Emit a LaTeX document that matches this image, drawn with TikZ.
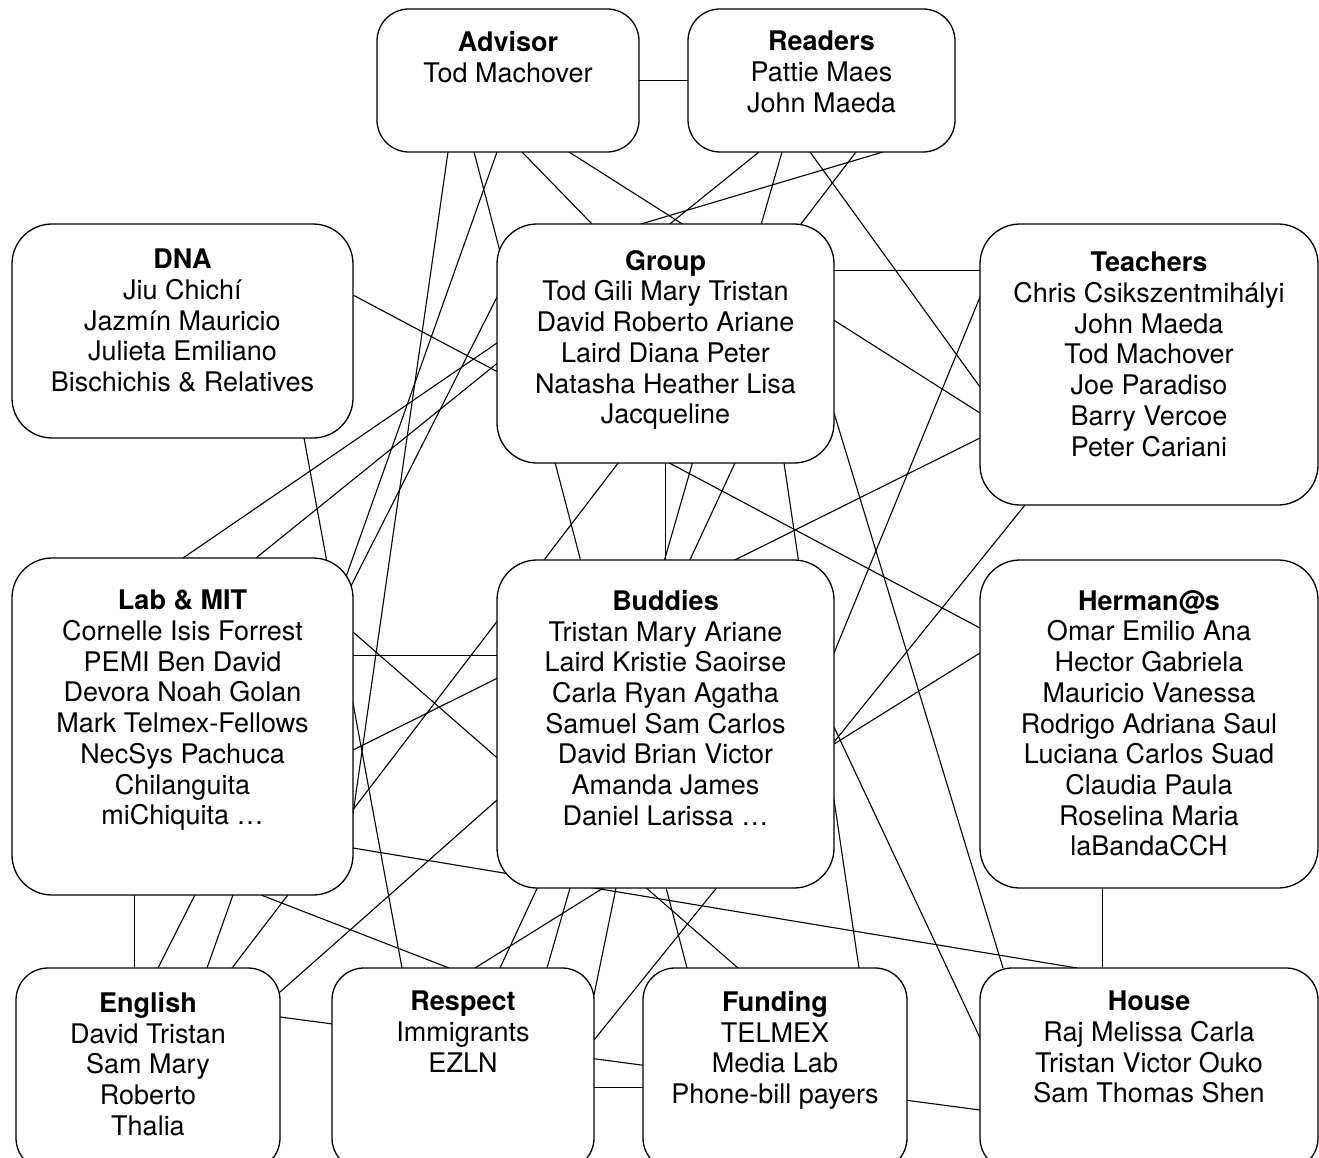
\documentclass[tikz,border=0pt]{standalone}
\usepackage{fontspec}
\setmainfont{TeX Gyre Heros}
\usetikzlibrary{positioning, calc, backgrounds}

\begin{document}
\begin{tikzpicture}[
        x=1pt, y=-1pt,
        % boxes (big ones and small ones)
        box/.style={draw, fill=white, line width=1.3pt, rounded corners=40pt, inner sep=0pt, outer sep=0pt, anchor=north west},
        sbox/.style={box, rounded corners=32pt},
        % the names written in each box
        names/.style={align=center, inner sep=0pt, font=\fontsize{27}{30.7}\selectfont},
        % connectors
        link/.style={line width=1.1pt}
    ]
    \useasboundingbox (0,0) rectangle (1319,1158);
    \clip (0,0) rectangle (1319,1158);

    % --- TOP ROW ---
    \node[sbox, minimum width=262pt, minimum height=143pt] (adv) at (377,9) {};
    \node[sbox, minimum width=267pt, minimum height=143pt, right=49pt of adv.north east, anchor=north west] (rdr) {};

    % --- SECOND ROW ---
    \node[box, minimum width=341pt, minimum height=214pt] (dna) at (12,224) {};
    \node[box, minimum width=337pt, minimum height=239pt, right=144pt of dna.north east, anchor=north west] (grp) {};
    \node[box, minimum width=338pt, minimum height=281pt, right=146pt of grp.north east, anchor=north west] (tch) {};

    % --- THIRD ROW ---
    \node[box, minimum width=341pt, minimum height=337pt, below=120pt of dna.south west, anchor=north west] (lab) {};
    \node[box, minimum width=337pt, minimum height=328pt, below=97pt of grp.south west, anchor=north west] (bud) {};
    \node[box, minimum width=338pt, minimum height=328pt, below=55pt of tch.south west, anchor=north west] (her) {};

    % --- BOTTOM ROW ---
    \node[sbox, minimum width=264pt, minimum height=202pt] (eng) at (16,968) {};
    \node[sbox, minimum width=262pt, minimum height=202pt, right=52pt of eng.north east, anchor=north west] (res) {};
    \node[sbox, minimum width=264pt, minimum height=202pt, right=49pt of res.north east, anchor=north west] (fun) {};
    \node[sbox, minimum width=338pt, minimum height=202pt, right=73pt of fun.north east, anchor=north west] (hou) {};

    % --- NAMES ---
    \node[names, below=22pt of adv.north] (adv-t) {\textbf{Advisor}\\Tod Machover};
    \node[names, below=22pt of rdr.north] (rdr-t) {\textbf{Readers}\\Pattie Maes\\John Maeda};
    \node[names, below=25pt of dna.north] (dna-t) {\textbf{DNA}\\Jiu Chichí\\Jazmín Mauricio\\Julieta Emiliano\\Bischichis \& Relatives};
    \node[names, below=26pt of grp.north] (grp-t) {\textbf{Group}\\Tod Gili Mary Tristan\\David Roberto Ariane\\Laird Diana Peter\\Natasha Heather Lisa\\Jacqueline};
    \node[names, below=28pt of tch.north] (tch-t) {\textbf{Teachers}\\Chris Csikszentmihályi\\John Maeda\\Tod Machover\\Joe Paradiso\\Barry Vercoe\\Peter Cariani};
    \node[names, below=32pt of lab.north] (lab-t) {\textbf{Lab \& MIT}\\Cornelle Isis Forrest\\PEMI Ben David\\Devora Noah Golan\\Mark Telmex-Fellows\\NecSys Pachuca\\Chilanguita\\miChiquita …};
    \node[names, below=30pt of bud.north] (bud-t) {\textbf{Buddies}\\Tristan Mary Ariane\\Laird Kristie Saoirse\\Carla Ryan Agatha\\Samuel Sam Carlos\\David Brian Victor\\Amanda James\\Daniel Larissa …};
    \node[names, below=30pt of her.north] (her-t) {\textbf{Herman@s}\\Omar Emilio Ana\\Hector Gabriela\\Mauricio Vanessa\\Rodrigo Adriana Saul\\Luciana Carlos Suad\\Claudia Paula\\Roselina Maria\\laBandaCCH};
    \node[names, below=24pt of eng.north] (eng-t) {\textbf{English}\\David Tristan\\Sam Mary\\Roberto\\Thalia};
    \node[names, below=23pt of res.north] (res-t) {\textbf{Respect}\\Immigrants\\EZLN};
    \node[names, below=23pt of fun.north] (fun-t) {\textbf{Funding}\\TELMEX\\Media Lab\\Phone-bill payers};
    \node[names, below=23pt of hou.north] (hou-t) {\textbf{House}\\Raj Melissa Carla\\Tristan Victor Ouko\\Sam Thomas Shen};

    % --- CONNECTORS (behind the boxes) ---
    \begin{scope}[on background layer]
        % from Advisor
        \draw[link] (adv.east) -- (rdr.west);
        \draw[link] ($(adv.south west)+(71,0)$) -- ($(lab.north east)+(0,256)$);
        \draw[link] ($(adv.south west)+(97,0)$) -- ($(fun.north west)+(44,0)$);
        \draw[link] ($(adv.south west)+(120,0)$) -- ($(eng.north west)+(191,0)$);
        \draw[link] ($(adv.south west)+(145,0)$) -- ($(grp.north west)+(95,0)$);
        \draw[link] ($(adv.south west)+(192,0)$) -- ($(tch.north west)+(0,189)$);
        % from Readers
        \draw[link] ($(rdr.south west)+(71,0)$) -- ($(lab.north west)+(244,0)$);
        \draw[link] ($(rdr.south west)+(94,0)$) -- ($(res.north west)+(215,0)$);
        \draw[link] ($(rdr.south west)+(122,0)$) -- ($(tch.north west)+(0,163)$);
        \draw[link] ($(rdr.south west)+(168,0)$) -- ($(eng.north west)+(216,0)$);
        \draw[link] ($(rdr.south west)+(195,0)$) -- ($(grp.north west)+(144,0)$);
        % from DNA
        \draw[link] ($(dna.north east)+(0,71)$) -- ($(her.north west)+(0,68)$);
        \draw[link] ($(dna.south west)+(292,0)$) -- ($(res.north west)+(70,0)$);
        % from Group
        \draw[link] ($(grp.north west)+(0,73)$) -- ($(eng.north west)+(142,0)$);
        \draw[link] ($(grp.north west)+(0,119)$) -- ($(lab.north west)+(171,0)$);
        \draw[link] ($(grp.north east)+(0,46.5)$) -- ($(tch.north west)+(0,46.5)$);
        \draw[link] ($(grp.north east)+(0,189)$) -- ($(hou.north west)+(23,0)$);
        \draw[link] ($(grp.south west)+(287,0)$) -- ($(fun.north west)+(216,0)$);
        \draw[link] (grp.south) -- (bud.north);
        \draw[link] ($(grp.south west)+(238,0)$) -- ($(res.north west)+(168,0)$);
        % from Teachers
        \draw[link] ($(tch.north west)+(0,214)$) -- ($(lab.north east)+(0,192)$);
        \draw[link] ($(tch.north west)+(0,73)$) -- ($(bud.north east)+(0,93)$);
        \draw[link] ($(tch.south west)+(45,0)$) -- ($(res.north east)+(0,72)$);
        % from Herman@s
        \draw[link] ($(her.north west)+(0,93)$) -- ($(res.north west)+(143,0)$);
        \draw[link] ($(her.south west)+(122.5,0)$) -- ($(hou.north west)+(122.5,0)$);
        % from Buddies
        \draw[link] ($(bud.north east)+(0,167)$) -- ($(hou.north west)+(0,70)$);
        \draw[link] ($(bud.north west)+(0,240)$) -- ($(eng.north east)+(0,24)$);
        \draw[link] ($(bud.south west)+(119,0)$) -- ($(res.north east)+(0,27)$);
        % from Lab & MIT
        \draw[link] ($(lab.north east)+(0,97.5)$) -- ($(bud.north west)+(0,95.5)$);
        \draw[link] ($(lab.north east)+(0,74)$) -- ($(fun.north west)+(95,0)$);
        \draw[link] ($(lab.north east)+(0,290)$) -- ($(hou.north west)+(97,0)$);
        \draw[link] ($(lab.south west)+(122.5,0)$) -- ($(eng.north west)+(118.5,0)$);
        \draw[link] ($(lab.south west)+(249,0)$) -- ($(res.north west)+(117,0)$);
        % bottom row
        \draw[link] ($(eng.north east)+(0,49)$) -- ($(hou.north west)+(0,142)$);
        \draw[link] ($(res.north east)+(0,119.5)$) -- ($(fun.north west)+(0,119.5)$);
    \end{scope}

\end{tikzpicture}
\end{document}
